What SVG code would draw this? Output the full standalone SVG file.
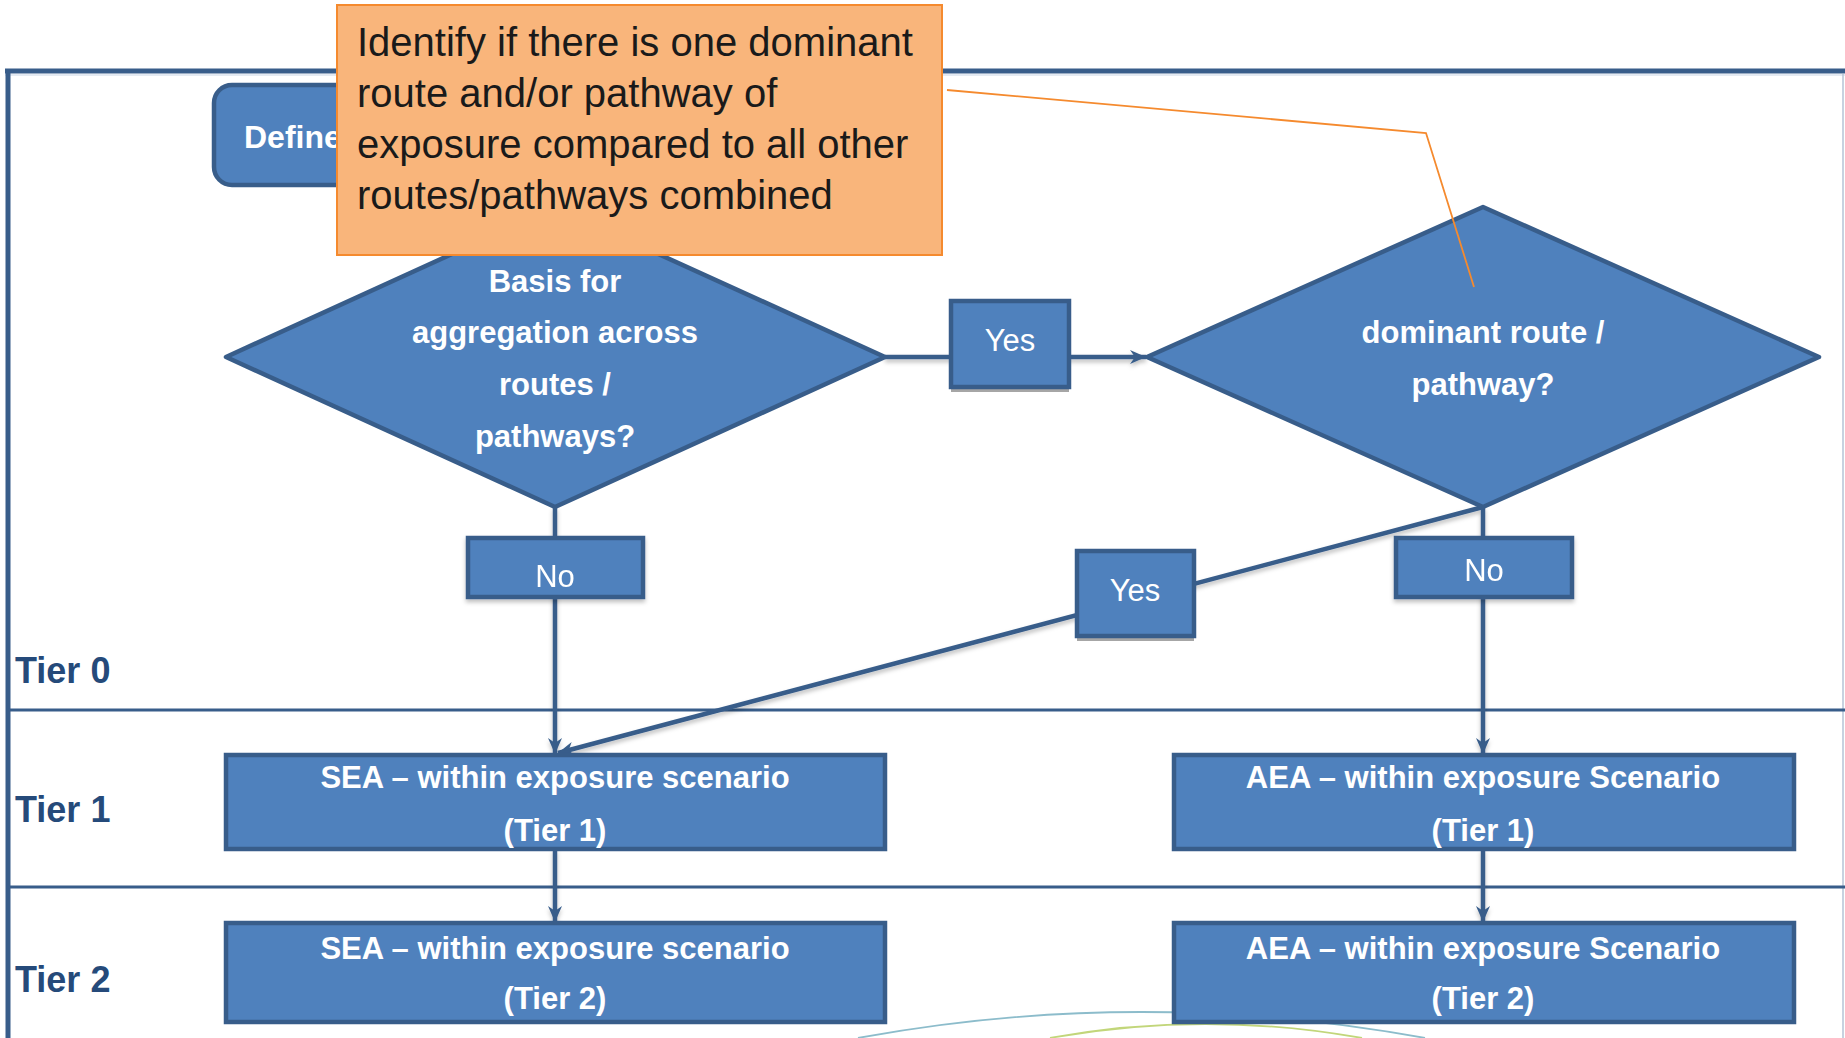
<svg xmlns="http://www.w3.org/2000/svg" width="1845" height="1038" viewBox="0 0 1845 1038">
  <style>
    .shape { fill: #4F81BD; stroke: #385D8A; stroke-width: 4.5; }
    .wlabel { fill: #FFFFFF; font-family: "Liberation Sans", Arial, sans-serif; font-weight: bold; font-size: 31px; text-anchor: middle; }
    .wstart { fill: #FFFFFF; font-family: "Liberation Sans", Arial, sans-serif; font-weight: bold; font-size: 32px; text-anchor: start; }
    .wplain { fill: #FFFFFF; font-family: "Liberation Sans", Arial, sans-serif; font-size: 31px; text-anchor: middle; }
    .tier { fill: #254A7A; font-family: "Liberation Sans", Arial, sans-serif; font-weight: bold; font-size: 36px; }
    .note { fill: #1A1A1A; font-family: "Liberation Sans", Arial, sans-serif; font-size: 40px; }
    .conn { stroke: #385D8A; stroke-width: 4.5; fill: none; }
    .lane { stroke: #385D8A; stroke-width: 2.8; }
  </style>
  <defs>
    <marker id="arr" markerUnits="userSpaceOnUse" markerWidth="18" markerHeight="16" refX="16" refY="8" orient="auto">
      <path d="M0,1 L16,8 L0,15 L5,8 z" fill="#385D8A"/>
    </marker>
    <filter id="soft" x="-10%" y="-10%" width="120%" height="140%">
      <feDropShadow dx="0" dy="3" stdDeviation="2" flood-color="#000" flood-opacity="0.25"/>
    </filter>
  </defs>

  <rect width="1845" height="1038" fill="#FFFFFF"/>

  <!-- decorative arcs at the foot of the page -->
  <g id="arcs" fill="none">
    <path d="M858,1038 Q1141,986 1425,1038" stroke="#8CBCCB" stroke-width="1.8"/>
    <path d="M1050,1038 Q1205,1010 1362,1038" stroke="#C2D67A" stroke-width="1.8"/>
  </g>

  <!-- outer frame and tier lanes -->
  <g id="frame">
    <line x1="5" y1="71" x2="1845" y2="71" stroke="#385D8A" stroke-width="5"/>
    <line x1="5" y1="75" x2="1845" y2="75" stroke="#C9D6E6" stroke-width="1.2"/>
    <line x1="8" y1="69" x2="8" y2="1038" stroke="#385D8A" stroke-width="5"/>
    <line x1="1843" y1="74" x2="1843" y2="1038" stroke="#B4C3D6" stroke-width="1.5"/>
    <line class="lane" x1="8" y1="710" x2="1845" y2="710"/>
    <line class="lane" x1="8" y1="887" x2="1845" y2="887"/>
    <text class="tier" x="15" y="683">Tier 0</text>
    <text class="tier" x="15" y="822">Tier 1</text>
    <text class="tier" x="15" y="992">Tier 2</text>
  </g>

  <g id="define">
    <rect class="shape" x="214" y="85" width="600" height="100" rx="18" stroke-width="5"/>
    <text class="wstart" x="244" y="148">Define</text>
  </g>

  <!-- connectors -->
  <g id="connectors" filter="url(#soft)">
    <line class="conn" x1="885" y1="357" x2="1146" y2="357" marker-end="url(#arr)"/>
    <line class="conn" x1="555" y1="507" x2="555" y2="754" marker-end="url(#arr)"/>
    <line class="conn" x1="1483" y1="507" x2="558" y2="753" marker-end="url(#arr)"/>
    <line class="conn" x1="1483" y1="507" x2="1483" y2="754" marker-end="url(#arr)"/>
    <line class="conn" x1="555" y1="849" x2="555" y2="922" marker-end="url(#arr)"/>
    <line class="conn" x1="1483" y1="849" x2="1483" y2="922" marker-end="url(#arr)"/>
  </g>

  <g id="basis-decision">
    <polygon class="shape" points="226,357 555,207 885,357 555,507" stroke-linejoin="round"/>
    <text class="wlabel" x="555" y="292">Basis for</text>
    <text class="wlabel" x="555" y="343">aggregation across</text>
    <text class="wlabel" x="555" y="395">routes /</text>
    <text class="wlabel" x="555" y="447">pathways?</text>
  </g>

  <g id="dominant-decision">
    <polygon class="shape" points="1147,357 1483,207 1819,357 1483,507" stroke-linejoin="round"/>
    <text class="wlabel" x="1483" y="343" font-size="32">dominant route /</text>
    <text class="wlabel" x="1483" y="395" font-size="32">pathway?</text>
  </g>

  <g id="yes-top">
    <rect x="951" y="305" width="118" height="87" fill="#A6A6A6"/>
    <rect class="shape" x="951" y="301" width="118" height="86"/>
    <text class="wplain" x="1010" y="351">Yes</text>
  </g>

  <g id="no-left" filter="url(#soft)">
    <rect class="shape" x="468" y="538" width="175" height="59"/>
    <text class="wplain" x="555" y="587">No</text>
  </g>

  <g id="yes-lower">
    <rect x="1077" y="555" width="117" height="86" fill="#A6A6A6"/>
    <rect class="shape" x="1077" y="551" width="117" height="85"/>
    <text class="wplain" x="1135" y="601">Yes</text>
  </g>

  <g id="no-right" filter="url(#soft)">
    <rect class="shape" x="1396" y="538" width="176" height="59"/>
    <text class="wplain" x="1484" y="581">No</text>
  </g>

  <g id="sea-tier1">
    <rect class="shape" x="226" y="755" width="659" height="94"/>
    <text class="wlabel" x="555" y="788" font-size="32">SEA – within exposure scenario</text>
    <text class="wlabel" x="555" y="841" font-size="32">(Tier 1)</text>
  </g>

  <g id="sea-tier2">
    <rect class="shape" x="226" y="923" width="659" height="99"/>
    <text class="wlabel" x="555" y="959" font-size="32">SEA – within exposure scenario</text>
    <text class="wlabel" x="555" y="1009" font-size="32">(Tier 2)</text>
  </g>

  <g id="aea-tier1">
    <rect class="shape" x="1174" y="755" width="620" height="94"/>
    <text class="wlabel" x="1483" y="788" font-size="32">AEA – within exposure Scenario</text>
    <text class="wlabel" x="1483" y="841" font-size="32">(Tier 1)</text>
  </g>

  <g id="aea-tier2">
    <rect class="shape" x="1174" y="923" width="620" height="99"/>
    <text class="wlabel" x="1483" y="959" font-size="32">AEA – within exposure Scenario</text>
    <text class="wlabel" x="1483" y="1009" font-size="32">(Tier 2)</text>
  </g>

  <!-- callout note with its leader line -->
  <g id="note">
    <polyline points="947,90 1426,133 1474,287" fill="none" stroke="#F58A2E" stroke-width="1.8"/>
    <rect x="337" y="5" width="605" height="250" fill="#F9B57B" stroke="#F58A2E" stroke-width="2"/>
    <text class="note" x="357" y="56">Identify if there is one dominant</text>
    <text class="note" x="357" y="107">route and/or pathway of</text>
    <text class="note" x="357" y="158">exposure compared to all other</text>
    <text class="note" x="357" y="209">routes/pathways combined</text>
  </g>
</svg>
